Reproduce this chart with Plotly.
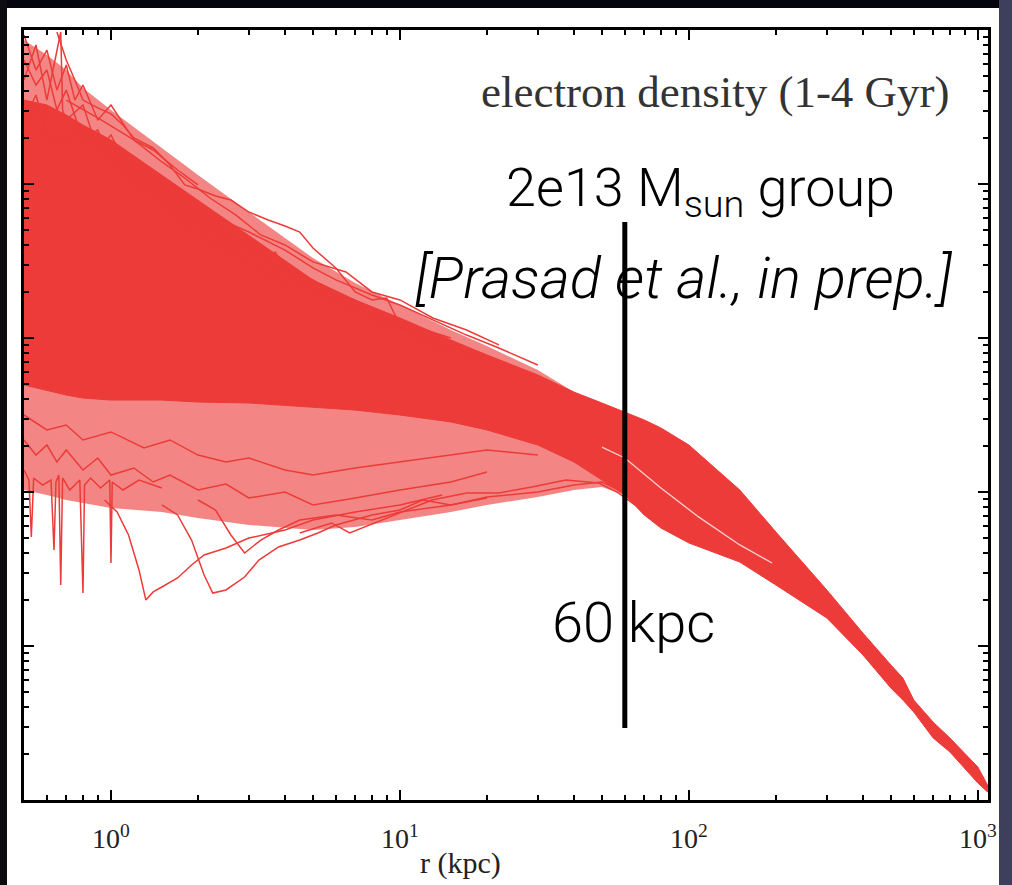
import numpy as np
import plotly.graph_objects as go

# ---------------- data (r in kpc, values are log10 of electron density) ----------------
r_core = [0.5, 0.6, 0.7, 0.8, 1, 1.5, 2, 3, 4, 5, 7, 10, 15, 20, 30, 40, 50, 60, 70, 80,
          100, 150, 200, 300, 400, 500, 550, 600, 700, 800, 1000, 1080]
log_ne_core_upper = [-0.455, -0.487, -0.552, -0.617, -0.714, -0.942, -1.104, -1.331, -1.494, -1.623,
                     -1.753, -1.870, -2.013, -2.110, -2.240, -2.351, -2.422, -2.481, -2.532, -2.584,
                     -2.695, -2.987, -3.260, -3.636, -3.916, -4.123, -4.208, -4.351, -4.494, -4.597,
                     -4.786, -4.903]
log_ne_core_lower = [-2.305, -2.338, -2.370, -2.390, -2.403, -2.403, -2.416, -2.422, -2.435, -2.448,
                     -2.468, -2.500, -2.545, -2.597, -2.695, -2.805, -2.922, -3.019, -3.149, -3.234,
                     -3.331, -3.455, -3.604, -3.818, -4.058, -4.273, -4.351, -4.429, -4.597, -4.688,
                     -4.890, -4.948]

r_halo_upper = [0.5, 0.6, 0.7, 0.8, 1, 1.5, 2, 3, 4, 5, 7, 10, 15, 20, 30, 40]
log_ne_halo_upper = [-0.065, -0.162, -0.260, -0.377, -0.519, -0.766, -0.942, -1.182, -1.351, -1.481,
                     -1.643, -1.786, -1.948, -2.052, -2.208, -2.351]
r_halo_lower = [0.5, 0.6, 0.7, 0.8, 1, 1.5, 2, 3, 4, 5, 7, 10, 15, 20, 30, 40, 50, 60, 70]
log_ne_halo_lower = [-2.987, -3.019, -3.052, -3.071, -3.104, -3.130, -3.169, -3.214, -3.234, -3.247,
                     -3.227, -3.182, -3.130, -3.084, -3.032, -2.987, -2.968, -3.019, -3.104]

# thin gap separating two sub-bundles beyond ~50 kpc
r_gap = [50, 60, 80, 108, 150, 194]
log_ne_gap = [-2.708, -2.779, -2.974, -3.162, -3.344, -3.461]

# individual profiles visible outside the dense bundle
r_u1 = [0.65, 0.7, 0.75, 0.8, 0.9, 1, 1.1, 1.2, 1.4, 1.6, 1.8, 2, 2.3, 2.6, 3, 3.5, 4, 4.5, 5, 6, 7, 8, 9, 10, 12, 14]
log_ne_u1 = [-0.013, -0.195, -0.325, -0.455, -0.506, -0.545, -0.617, -0.701, -0.766, -0.877, -1.006, -1.032,
             -1.078, -1.104, -1.182, -1.234, -1.273, -1.312, -1.416, -1.545, -1.701, -1.753, -1.740, -1.916,
             -2.013, -2.065]
r_u2 = [0.5, 0.55, 0.6, 0.7, 0.8, 1, 1.2, 1.4, 1.6, 2, 2.3, 2.6, 3, 3.5, 3.7, 4, 5, 6, 7, 8, 10, 12, 15, 20]
log_ne_u2 = [-0.584, -0.422, -0.682, -0.727, -0.636, -0.792, -0.896, -0.974, -1.052, -1.169, -1.266, -1.351,
             -1.390, -1.506, -1.442, -1.545, -1.623, -1.721, -1.753, -1.870, -1.935, -1.981, -2.065, -2.143]
r_u3 = [0.5, 0.55, 0.6, 0.65, 0.7, 0.8, 0.9, 1, 1.2, 1.5, 2, 2.5, 3, 4, 5, 7, 10, 15]
log_ne_u3 = [-0.195, -0.357, -0.260, -0.519, -0.390, -0.714, -0.649, -0.844, -0.942, -1.071, -1.234, -1.364,
             -1.429, -1.558, -1.688, -1.818, -1.896, -2.000]
r_u4 = [0.5, 0.55, 0.6, 0.67, 0.68, 0.7, 0.8, 0.9, 1, 1.2, 1.5, 2, 3, 4]
log_ne_u4 = [-0.325, -0.097, -0.455, -0.013, -0.519, -0.584, -0.487, -0.779, -0.682, -0.974, -1.104, -1.331,
             -1.506, -1.656]
r_u5 = [0.5, 0.55, 0.6, 0.65, 0.7, 0.75, 0.8, 0.9, 1, 1.2, 1.4, 1.7, 2]
log_ne_u5 = [-0.032, -0.260, -0.130, -0.390, -0.227, -0.455, -0.357, -0.584, -0.487, -0.714, -0.779, -0.909,
             -1.006]
r_u6 = [1, 1.3, 1.6, 2, 2.5, 3, 4, 5, 6, 8, 10, 13, 17, 22, 30]
log_ne_u6 = [-0.779, -0.896, -1.006, -1.136, -1.247, -1.312, -1.429, -1.545, -1.623, -1.721, -1.786, -1.883,
             -1.981, -2.065, -2.175]
r_u7 = [0.7, 0.9, 1.2, 1.5, 1.8, 2.2, 2.7, 3.3, 4, 5, 6.5, 8, 10, 13, 17, 22]
log_ne_u7 = [-0.455, -0.571, -0.714, -0.857, -0.961, -1.091, -1.201, -1.331, -1.396, -1.506, -1.571, -1.701,
             -1.753, -1.870, -1.948, -2.045]

r_l1 = [0.95, 1.05, 1.15, 1.25, 1.32, 1.4, 1.5, 1.7, 1.9, 2.1, 2.5, 3, 4, 5, 7, 10, 14]
log_ne_l1 = [-3.052, -3.130, -3.279, -3.506, -3.701, -3.649, -3.617, -3.558, -3.474, -3.409, -3.364, -3.299,
             -3.247, -3.182, -3.130, -3.084, -3.019]
r_l2 = [1.5, 1.7, 1.9, 2.1, 2.25, 2.5, 2.9, 3.25, 3.8, 4.5, 5.2, 6, 8, 10, 12, 15, 20]
log_ne_l2 = [-3.084, -3.149, -3.312, -3.539, -3.656, -3.636, -3.552, -3.442, -3.357, -3.312, -3.266, -3.214,
             -3.149, -3.117, -3.052, -3.084, -3.039]
r_l3 = [2, 2.3, 2.6, 2.9, 3.3, 3.8, 4.5, 6, 8, 10, 15, 20, 30, 40, 50, 60]
log_ne_l3 = [-3.052, -3.117, -3.279, -3.396, -3.312, -3.247, -3.182, -3.149, -3.182, -3.130, -3.084, -3.032,
             -3.000, -2.955, -2.935, -3.006]
r_l4 = [4.5, 5.8, 6.7, 8.7, 10, 12.9, 17, 22, 28.6, 37.5, 48.8, 57, 65]
log_ne_l4 = [-3.266, -3.201, -3.266, -3.182, -3.136, -3.052, -3.006, -3.006, -2.968, -2.922, -2.942, -3.006,
             -3.084]
r_l5 = [0.5, 0.52, 0.53, 0.54, 0.58, 0.62, 0.635, 0.645, 0.66, 0.67, 0.68, 0.72, 0.78, 0.8, 0.81, 0.85,
        0.92, 0.99, 1.0, 1.01, 1.1, 1.25, 1.5]
log_ne_l5 = [-2.857, -2.922, -3.292, -2.909, -2.955, -2.922, -3.377, -2.935, -2.890, -3.604, -2.909, -2.987,
             -2.922, -3.656, -2.955, -2.909, -2.974, -2.922, -3.461, -2.935, -2.987, -2.922, -2.974]
r_m1 = [0.5, 0.55, 0.6, 0.65, 0.7, 0.8, 0.9, 1, 1.2, 1.4, 1.6, 2, 2.5, 3, 4, 5, 7, 10, 15, 20]
log_ne_m1 = [-2.662, -2.760, -2.695, -2.805, -2.727, -2.857, -2.779, -2.890, -2.844, -2.935, -2.890, -2.987,
             -2.948, -3.039, -3.000, -3.084, -3.039, -2.987, -2.935, -2.870]
r_m2 = [0.5, 0.6, 0.7, 0.8, 1, 1.3, 1.6, 2, 2.5, 3, 4, 5, 7, 10, 15, 20, 30]
log_ne_m2 = [-2.500, -2.597, -2.565, -2.662, -2.610, -2.714, -2.662, -2.760, -2.805, -2.779, -2.857, -2.890,
             -2.844, -2.805, -2.760, -2.727, -2.760]

# marker line at 60 kpc
r_marker = [60, 60]
log_ne_marker = [-1.247, -4.532]

x_tick_vals = [1, 10, 100, 1000]
x_tick_text = ["10<sup>0</sup>", "10<sup>1</sup>", "10<sup>2</sup>", "10<sup>3</sup>"]
y_tick_vals = [1e-5, 1e-4, 1e-3, 1e-2, 1e-1, 1]

RED = "#ec3b38"


def ne(logs):
    return [10.0 ** v for v in logs]


fig = go.Figure()

# semi-dense halo of profiles around the core
fig.add_trace(go.Scatter(
    x=r_halo_upper + r_halo_lower[::-1],
    y=ne(log_ne_halo_upper + log_ne_halo_lower[::-1]),
    mode="lines", fill="toself", fillcolor="rgba(236,59,56,0.62)",
    line=dict(width=0), hoverinfo="skip", showlegend=False))

# dense bundle of profiles
fig.add_trace(go.Scatter(
    x=r_core + r_core[::-1],
    y=ne(log_ne_core_upper + log_ne_core_lower[::-1]),
    mode="lines", fill="toself", fillcolor=RED,
    line=dict(width=1, color=RED), hoverinfo="skip", showlegend=False))

# gap between the two sub-bundles
fig.add_trace(go.Scatter(x=r_gap, y=ne(log_ne_gap), mode="lines",
                         line=dict(color="rgba(255,255,255,0.75)", width=1.4),
                         hoverinfo="skip", showlegend=False))

profiles = [(r_u1, log_ne_u1), (r_u2, log_ne_u2), (r_u3, log_ne_u3), (r_u4, log_ne_u4), (r_u5, log_ne_u5),
            (r_u6, log_ne_u6), (r_u7, log_ne_u7),
            (r_l1, log_ne_l1), (r_l2, log_ne_l2), (r_l3, log_ne_l3), (r_l4, log_ne_l4), (r_l5, log_ne_l5),
            (r_m1, log_ne_m1), (r_m2, log_ne_m2)]
for rr, ll in profiles:
    fig.add_trace(go.Scatter(x=rr, y=ne(ll), mode="lines",
                             line=dict(color=RED, width=1.5),
                             hoverinfo="skip", showlegend=False))

fig.add_trace(go.Scatter(x=r_marker, y=ne(log_ne_marker), mode="lines",
                         line=dict(color="black", width=5), hoverinfo="skip", showlegend=False))

x_minor = [k * 10.0 ** d for d in range(-1, 4) for k in range(2, 10)]
y_minor = [k * 10.0 ** d for d in range(-5, 0) for k in range(2, 10)]

W, H = 1012, 885
L, R, T, B = 24, 24, 30, 85
pw, ph = W - L - R, H - T - B


def px(x):
    return (x - L) / pw


def py(y):
    return (H - B - y) / ph


fig.update_layout(
    width=W, height=H,
    margin=dict(l=L, r=R, t=T, b=B, pad=0),
    paper_bgcolor="white", plot_bgcolor="white",
    showlegend=False,
    xaxis=dict(type="log", range=[np.log10(0.5), 3.035],
               showline=True, linecolor="black", linewidth=2.5, mirror="ticks",
               ticks="inside", ticklen=10, tickwidth=2, tickcolor="black",
               tickmode="array", tickvals=x_tick_vals, ticktext=x_tick_text,
               tickfont=dict(family="Liberation Serif", size=28, color="#222"),
               ticklabelstandoff=12,
               showgrid=False, zeroline=False,
               minor=dict(tickmode="array", tickvals=x_minor, ticks="inside", ticklen=5,
                          tickwidth=1.5, tickcolor="black", showgrid=False)),
    yaxis=dict(type="log", range=[-5, 0],
               showline=True, linecolor="black", linewidth=2.5, mirror="ticks",
               ticks="inside", ticklen=10, tickwidth=2, tickcolor="black",
               tickmode="array", tickvals=y_tick_vals, showticklabels=False,
               showgrid=False, zeroline=False,
               minor=dict(tickmode="array", tickvals=y_minor, ticks="inside", ticklen=5,
                          tickwidth=1.5, tickcolor="black", showgrid=False)),
    shapes=[
        dict(type="rect", xref="paper", yref="paper", x0=px(0), x1=px(W), y0=py(0), y1=py(8),
             fillcolor="#05050f", line=dict(width=0), layer="above"),
        dict(type="rect", xref="paper", yref="paper", x0=px(0), x1=px(7), y0=py(H), y1=py(0),
             fillcolor="#0b0b10", line=dict(width=0), layer="above"),
        dict(type="rect", xref="paper", yref="paper", x0=px(999), x1=px(W), y0=py(H), y1=py(0),
             fillcolor="#3e3f5c", line=dict(width=0), layer="above"),
    ],
    annotations=[
        dict(text="r (kpc)", xref="paper", yref="paper", x=px(460), y=py(863),
             xanchor="center", yanchor="middle", showarrow=False,
             font=dict(family="Liberation Serif", size=30, color="#222")),
        dict(text="electron density (1-4 Gyr)", xref="paper", yref="paper", x=px(952), y=py(92),
             xanchor="right", yanchor="middle", showarrow=False,
             font=dict(family="Liberation Serif", size=45, color="#333")),
        dict(text="2e13 M<sub>sun</sub> group", xref="paper", yref="paper", x=px(700), y=py(191),
             xanchor="center", yanchor="middle", showarrow=False,
             font=dict(family="Roboto", size=54, color="black", weight=300)),
        dict(text="<i>[Prasad et al., in prep.]</i>", xref="paper", yref="paper", x=px(683), y=py(278),
             xanchor="center", yanchor="middle", showarrow=False,
             font=dict(family="Roboto", size=58, color="black", weight=300)),
        dict(text="60 kpc", xref="paper", yref="paper", x=px(633), y=py(623),
             xanchor="center", yanchor="middle", showarrow=False,
             font=dict(family="Roboto", size=56, color="black", weight=300)),
    ],
)

fig.write_html("out.html")
